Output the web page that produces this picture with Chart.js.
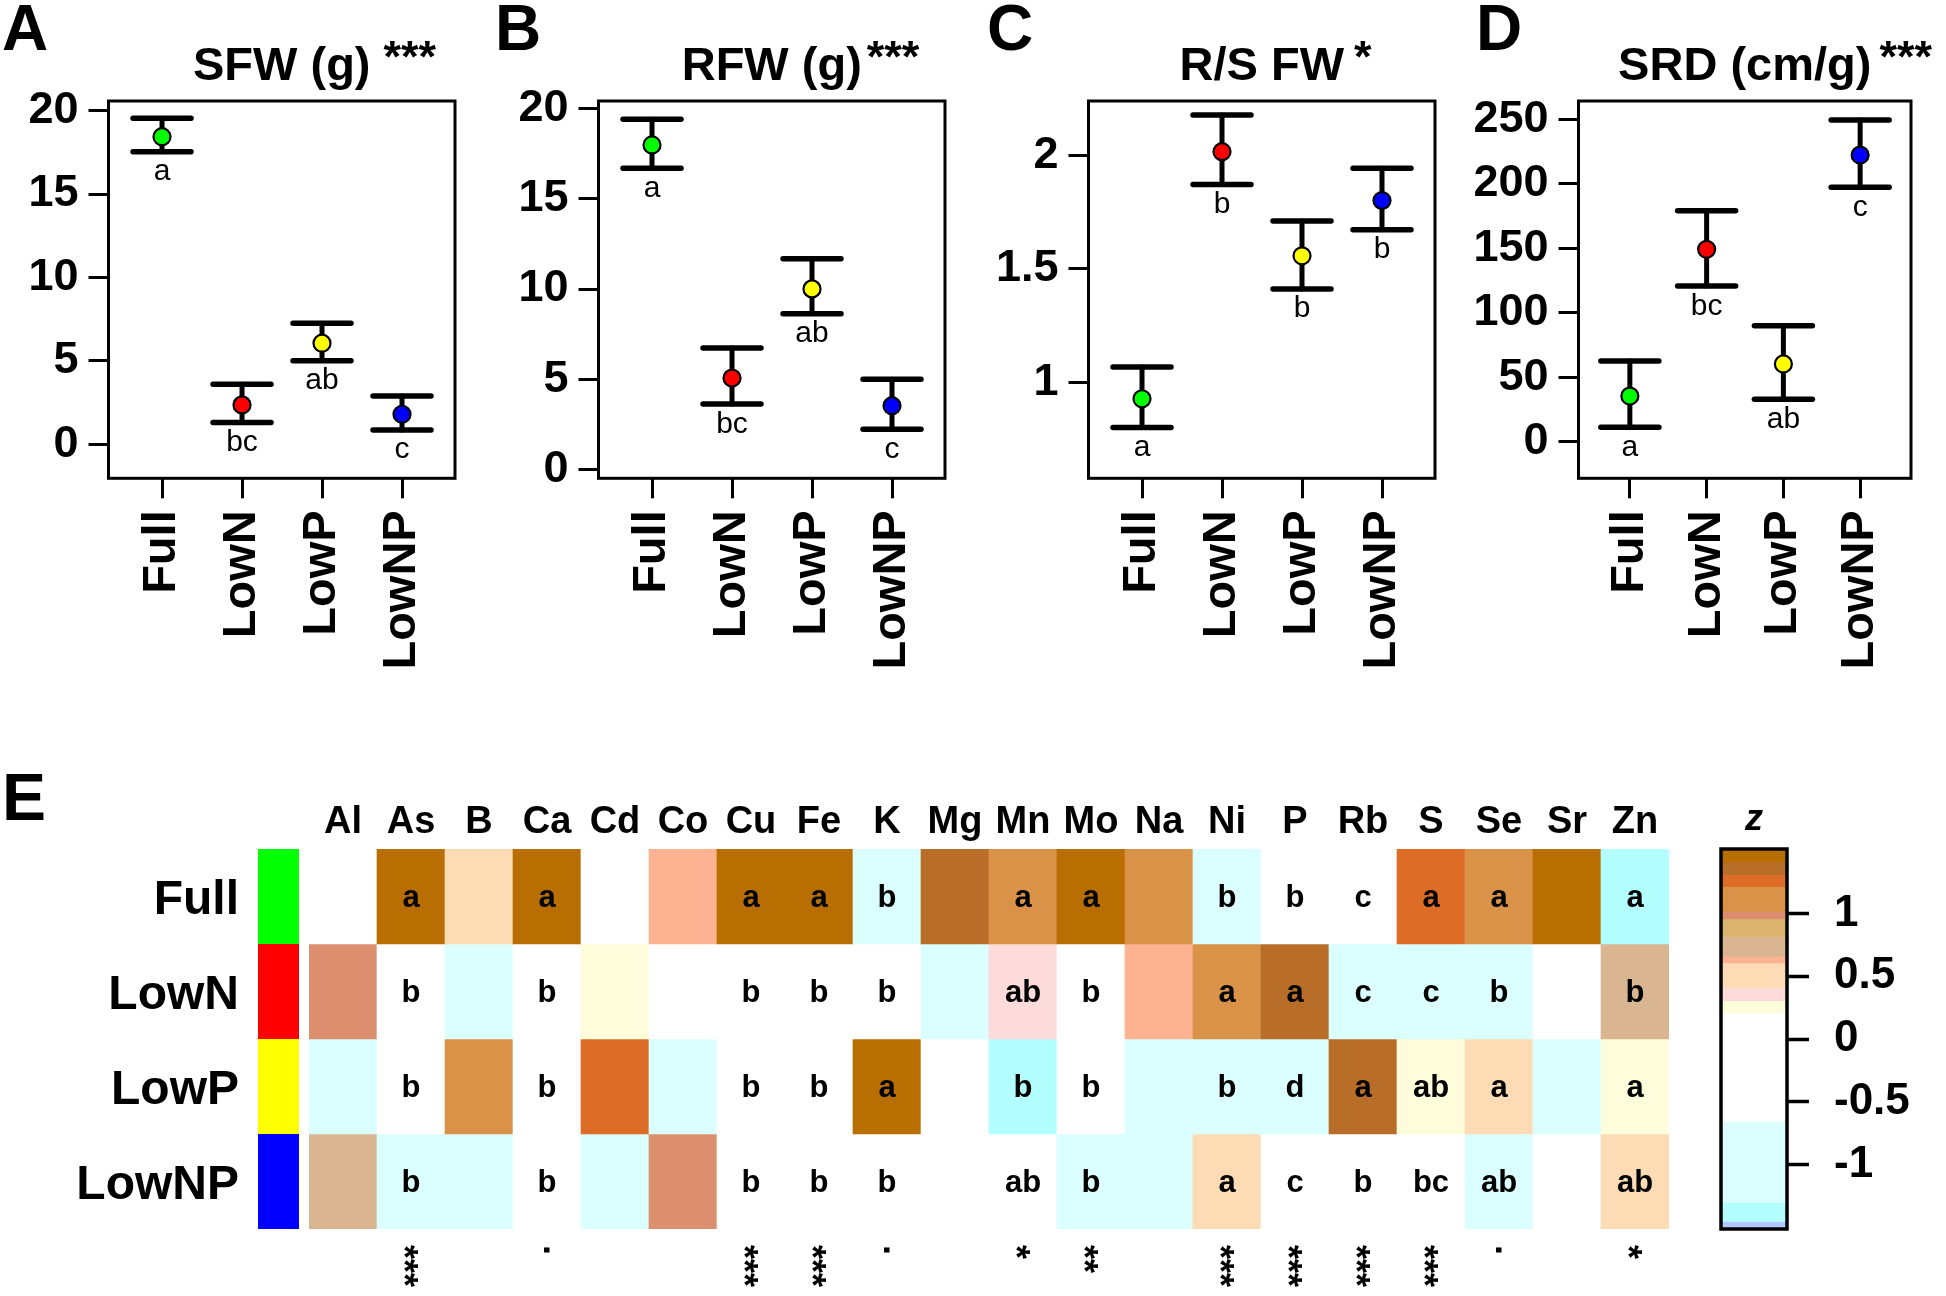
<!DOCTYPE html>
<html>
<head>
<meta charset="utf-8">
<script src="https://cdn.jsdelivr.net/npm/chart.js@4.4.1/dist/chart.umd.min.js"></script>
<style>
  html, body { margin: 0; padding: 0; background: #fff; }
  #wrap { position: relative; width: 1946px; height: 1296px; overflow: hidden; background: #fff; }
  canvas { position: absolute; }
</style>
</head>
<body>
<div id="wrap">
  <canvas id="pA" width="490" height="700" style="left:0px;top:0px"></canvas>
  <canvas id="pB" width="490" height="700" style="left:490px;top:0px"></canvas>
  <canvas id="pC" width="490" height="700" style="left:980px;top:0px"></canvas>
  <canvas id="pD" width="476" height="700" style="left:1470px;top:0px"></canvas>
  <canvas id="heat" width="1700" height="536" style="left:0px;top:760px"></canvas>
  <canvas id="zbar" width="246" height="536" style="left:1700px;top:760px"></canvas>
</div>
<script>
// ---- data ----
const groups = ['Full', 'LowN', 'LowP', 'LowNP'];
const groupColors = ['#00ff00', '#ff0000', '#ffff00', '#0000ff'];

// A) shoot fresh weight
const sfwMean = [18.44, 2.36, 6.06, 1.80];
const sfwLo   = [17.54, 1.30, 5.00, 0.86];
const sfwHi   = [19.54, 3.60, 7.25, 2.90];
const sfwLetters = ['a', 'bc', 'ab', 'c'];
const sfwTicks = [0, 5, 10, 15, 20];

// B) root fresh weight
const rfwMean = [17.98, 5.07, 10.01, 3.54];
const rfwLo   = [16.69, 3.63, 8.63, 2.23];
const rfwHi   = [19.41, 6.73, 11.68, 5.00];
const rfwLetters = ['a', 'bc', 'ab', 'c'];
const rfwTicks = [0, 5, 10, 15, 20];

// C) root/shoot FW
const rsMean = [0.929, 2.016, 1.558, 1.801];
const rsLo   = [0.802, 1.872, 1.412, 1.672];
const rsHi   = [1.069, 2.177, 1.711, 1.943];
const rsLetters = ['a', 'b', 'b', 'b'];
const rsTicks = [1, 1.5, 2];

// D) specific root density
const srdMean = [35.4, 149.2, 60.3, 222.3];
const srdLo   = [11.2, 120.7, 32.9, 197.3];
const srdHi   = [62.6, 179.1, 90.0, 249.5];
const srdLetters = ['a', 'bc', 'ab', 'c'];
const srdTicks = [0, 50, 100, 150, 200, 250];

// E) element z-scores
const elements = ['Al','As','B','Ca','Cd','Co','Cu','Fe','K','Mg','Mn','Mo','Na','Ni','P','Rb','S','Se','Sr','Zn'];
const zFull  = [-0.45, 1.45, 0.50, 1.45, -0.30, 0.62, 1.45, 1.45, -0.85, 1.35, 1.10, 1.45, 1.10, -0.85, -0.20, -0.35, 1.25, 1.10, 1.45, -1.40];
const zLowN  = [0.98, -0.30, -0.95, -0.40, 0.25, -0.20, -0.45, -0.45, -0.40, -0.90, 0.35, -0.40, 0.62, 1.10, 1.35, -0.90, -0.95, -0.95, -0.35, 0.73];
const zLowP  = [-0.95, -0.45, 1.10, -0.45, 1.25, -0.90, -0.50, -0.50, 1.45, -0.40, -1.40, -0.45, -0.95, -0.90, -1.00, 1.35, 0.25, 0.50, -0.95, 0.25];
const zLowNP = [0.73, -0.95, -1.00, -0.50, -0.95, 0.98, -0.50, -0.50, -0.30, -0.15, -0.10, -0.85, -0.90, 0.50, -0.25, -0.20, -0.35, -0.95, -0.30, 0.50];
const lettersFull  = ['', 'a', '', 'a', '', '', 'a', 'a', 'b', '', 'a', 'a', '', 'b', 'b', 'c', 'a', 'a', '', 'a'];
const lettersLowN  = ['', 'b', '', 'b', '', '', 'b', 'b', 'b', '', 'ab', 'b', '', 'a', 'a', 'c', 'c', 'b', '', 'b'];
const lettersLowP  = ['', 'b', '', 'b', '', '', 'b', 'b', 'a', '', 'b', 'b', '', 'b', 'd', 'a', 'ab', 'a', '', 'a'];
const lettersLowNP = ['', 'b', '', 'b', '', '', 'b', 'b', 'b', '', 'ab', 'b', '', 'a', 'c', 'b', 'bc', 'ab', '', 'ab'];
const signif = ['', '***', '', '.', '', '', '***', '***', '.', '', '*', '**', '', '***', '***', '***', '***', '.', '', '*'];

// colour key bands (z from .. to)
const cbLo = [-1.515, -1.459, -1.308, -0.662, 0.203, 0.300, 0.402, 0.601, 0.654, 0.813, 0.952, 1.013, 1.210, 1.305, 1.404];
const cbHi = [-1.459, -1.308, -0.662, 0.203, 0.300, 0.402, 0.601, 0.654, 0.813, 0.952, 1.013, 1.210, 1.305, 1.404, 1.515];
const cbColors = ['#b3c9fe', '#b3fefe', '#dbfefe', '#ffffff', '#fefddb', '#fddbdb', '#fddbb5', '#fdb391',
                  '#dab592', '#dcb46e', '#db8f6e', '#da9249', '#dc6c26', '#b86e28', '#b86e00'];
const cbTicks = [-1, -0.5, 0, 0.5, 1];

const FONT = "'Liberation Sans', Arial, sans-serif";
const $ = (id) => document.getElementById(id);
const plain = (v) => String(v);

const zColor = (z) => {
  for (let i = 0; i < cbLo.length; i++) if (z >= cbLo[i] && z < cbHi[i]) return cbColors[i];
  return z < 0 ? cbColors[0] : cbColors[cbColors.length - 1];
};

// ---- panels A-D ----
function panel(id, p) {
  const deco = {
    id: 'deco',
    beforeDatasetsDraw(chart) {
      const { ctx, scales: { x, y } } = chart;
      ctx.save();
      ctx.strokeStyle = '#000';
      ctx.lineCap = 'round';
      p.mean.forEach((m, i) => {
        const px = x.getPixelForValue(i + 1);
        const yl = y.getPixelForValue(p.lo[i]), yh = y.getPixelForValue(p.hi[i]);
        ctx.lineWidth = 5;
        ctx.beginPath(); ctx.moveTo(px, yl); ctx.lineTo(px, yh); ctx.stroke();
        ctx.lineWidth = 5.5;
        ctx.beginPath(); ctx.moveTo(px - 29, yl); ctx.lineTo(px + 29, yl); ctx.stroke();
        ctx.beginPath(); ctx.moveTo(px - 29, yh); ctx.lineTo(px + 29, yh); ctx.stroke();
      });
      ctx.restore();
    },
    afterDraw(chart) {
      const { ctx, chartArea: a, scales: { x, y } } = chart;
      ctx.save();
      ctx.strokeStyle = '#000';
      ctx.lineWidth = 3;
      ctx.strokeRect(a.left, a.top, a.right - a.left, a.bottom - a.top);
      ctx.fillStyle = '#000';
      // group letters under the lower bar
      ctx.font = `30px ${FONT}`;
      ctx.textAlign = 'center';
      ctx.textBaseline = 'alphabetic';
      p.letters.forEach((t, i) => ctx.fillText(t, x.getPixelForValue(i + 1), y.getPixelForValue(p.lo[i]) + 28.5));
      // title + stars
      ctx.font = `bold 47px ${FONT}`;
      const cx = (a.left + a.right) / 2;
      ctx.fillText(p.title, cx, 80);
      const tw = ctx.measureText(p.title).width;
      ctx.font = `bold 45px ${FONT}`;
      ctx.textAlign = 'left';
      ctx.fillText(p.stars, cx + tw / 2 + p.gap, 72);
      // panel letter
      ctx.font = `bold 64px ${FONT}`;
      ctx.fillText(p.tag, p.tagX, 50);
      ctx.restore();
    }
  };

  return new Chart($(id), {
    type: 'scatter',
    data: {
      datasets: [{
        data: p.mean.map((v, i) => ({ x: i + 1, y: v })),
        pointRadius: 8.5, pointHoverRadius: 8.5,
        pointBackgroundColor: groupColors,
        pointBorderColor: '#000', pointBorderWidth: 2.2
      }]
    },
    options: {
      responsive: false, animation: false, events: [],
      layout: { padding: { top: 101, right: 35, left: 0, bottom: 0 } },
      plugins: { legend: { display: false }, tooltip: { enabled: false } },
      scales: {
        x: {
          type: 'linear', min: 0.331, max: 4.6625,
          afterBuildTicks: (s) => { s.ticks = [1, 2, 3, 4].map(v => ({ value: v })); },
          afterFit: (s) => { s.height = 221.7; },
          grid: { drawOnChartArea: false, drawTicks: true, tickLength: 20, tickWidth: 3, color: '#000', tickColor: '#000' },
          border: { display: false },
          ticks: {
            callback: (v) => groups[v - 1], minRotation: 90, maxRotation: 90, autoSkip: false,
            padding: 12, color: '#000', font: { family: FONT, size: 47, weight: 'bold' }
          }
        },
        y: {
          min: p.min, max: p.max,
          afterBuildTicks: (s) => { s.ticks = p.ticks.map(v => ({ value: v })); },
          afterFit: (s) => { s.width = 108.5; },
          grid: { drawOnChartArea: false, drawTicks: true, tickLength: 20, tickWidth: 3, color: '#000', tickColor: '#000' },
          border: { display: false },
          ticks: { callback: plain, padding: 10, color: '#000', font: { family: FONT, size: 45, weight: 'bold' } }
        }
      }
    },
    plugins: [deco]
  });
}

panel('pA', { mean: sfwMean, lo: sfwLo, hi: sfwHi, letters: sfwLetters, ticks: sfwTicks, min: -2.04, max: 20.58,
  title: 'SFW (g)', stars: '***', gap: 13, tag: 'A', tagX: 2 });
panel('pB', { mean: rfwMean, lo: rfwLo, hi: rfwHi, letters: rfwLetters, ticks: rfwTicks, min: -0.48, max: 20.415,
  title: 'RFW (g)', stars: '***', gap: 5, tag: 'B', tagX: 5 });
panel('pC', { mean: rsMean, lo: rsLo, hi: rsHi, letters: rsLetters, ticks: rsTicks, min: 0.579, max: 2.239,
  title: 'R/S FW', stars: '*', gap: 10, tag: 'C', tagX: 7 });
panel('pD', { mean: srdMean, lo: srdLo, hi: srdHi, letters: srdLetters, ticks: srdTicks, min: -28.4, max: 264.2,
  title: 'SRD (cm/g)', stars: '***', gap: 8, tag: 'D', tagX: 6 });

// ---- E: heatmap ----
const zRows = [zFull, zLowN, zLowP, zLowNP];
const letterRows = [lettersFull, lettersLowN, lettersLowP, lettersLowNP];

const heatText = {
  id: 'heatText',
  afterDraw(chart) {
    const { ctx, chartArea: a, scales: { x, y } } = chart;
    ctx.save();
    ctx.fillStyle = '#000';
    ctx.textBaseline = 'alphabetic';
    ctx.font = `bold 66px ${FONT}`;
    ctx.textAlign = 'left';
    ctx.fillText('E', 2, 60);

    ctx.font = `bold 38px ${FONT}`;
    ctx.textAlign = 'center';
    elements.forEach((el, i) => ctx.fillText(el, x.getPixelForValue(i), a.top - 16));

    groups.forEach((g, r) => {
      const y0 = y.getPixelForValue(r), y1 = y.getPixelForValue(r + 1);
      ctx.fillStyle = groupColors[r];
      ctx.fillRect(a.left - 51, y0, 41, y1 - y0);
      ctx.fillStyle = '#000';
      ctx.font = `bold 48px ${FONT}`;
      ctx.textAlign = 'right';
      ctx.fillText(g, a.left - 70, (y0 + y1) / 2 + 17);
    });

    ctx.font = `bold 31px ${FONT}`;
    ctx.textAlign = 'center';
    letterRows.forEach((row, r) => row.forEach((t, i) => {
      if (t) ctx.fillText(t, x.getPixelForValue(i), y.getPixelForValue(r + 0.5) + 10);
    }));

    // significance marks, written downwards
    ctx.font = `bold 36px ${FONT}`;
    ctx.textAlign = 'left';
    signif.forEach((s, i) => {
      if (!s) return;
      const m = ctx.measureText(s);
      const off = (m.actualBoundingBoxAscent - m.actualBoundingBoxDescent) / 2;
      ctx.save();
      ctx.translate(x.getPixelForValue(i), a.bottom + 16);
      ctx.rotate(Math.PI / 2);
      ctx.fillText(s, 0, off);
      ctx.restore();
    });
    ctx.restore();
  }
};

new Chart($('heat'), {
  type: 'bar',
  data: {
    labels: elements,
    datasets: zRows.map((row, r) => ({
      data: row.map(() => [r, r + 1]),
      backgroundColor: row.map(zColor),
      borderWidth: 0, barPercentage: 1, categoryPercentage: 1, grouped: false
    }))
  },
  options: {
    responsive: false, animation: false, events: [],
    layout: { padding: { left: 309, right: 31, top: 89, bottom: 67 } },
    plugins: { legend: { display: false }, tooltip: { enabled: false } },
    scales: {
      x: { display: false },
      y: { display: false, min: 0, max: 4, reverse: true }
    }
  },
  plugins: [heatText]
});

// ---- colour key ----
const keyFrame = {
  id: 'keyFrame',
  afterDraw(chart) {
    const { ctx, chartArea: a } = chart;
    ctx.save();
    ctx.strokeStyle = '#000';
    ctx.lineWidth = 3.5;
    ctx.strokeRect(a.left, a.top, a.right - a.left, a.bottom - a.top);
    ctx.fillStyle = '#000';
    ctx.font = `italic bold 36px ${FONT}`;
    ctx.textAlign = 'center';
    ctx.fillText('z', (a.left + a.right) / 2, 70);
    ctx.restore();
  }
};

new Chart($('zbar'), {
  type: 'bar',
  data: {
    labels: ['z'],
    datasets: cbColors.map((c, i) => ({
      data: [[cbLo[i], cbHi[i]]], backgroundColor: c,
      borderWidth: 0, barPercentage: 1, categoryPercentage: 1, grouped: false
    }))
  },
  options: {
    responsive: false, animation: false, events: [],
    layout: { padding: { left: 21, right: 0, top: 89, bottom: 67 } },
    plugins: { legend: { display: false }, tooltip: { enabled: false } },
    scales: {
      x: { display: false },
      y: {
        position: 'right', min: -1.515, max: 1.515,
        afterBuildTicks: (s) => { s.ticks = cbTicks.map(v => ({ value: v })); },
        afterFit: (s) => { s.width = 159; },
        grid: { drawOnChartArea: false, drawTicks: true, tickLength: 22, tickWidth: 3.5, color: '#000', tickColor: '#000' },
        border: { display: false },
        ticks: { callback: plain, padding: 25, color: '#000', font: { family: FONT, size: 44, weight: 'bold' } }
      }
    }
  },
  plugins: [keyFrame]
});
</script>
</body>
</html>
